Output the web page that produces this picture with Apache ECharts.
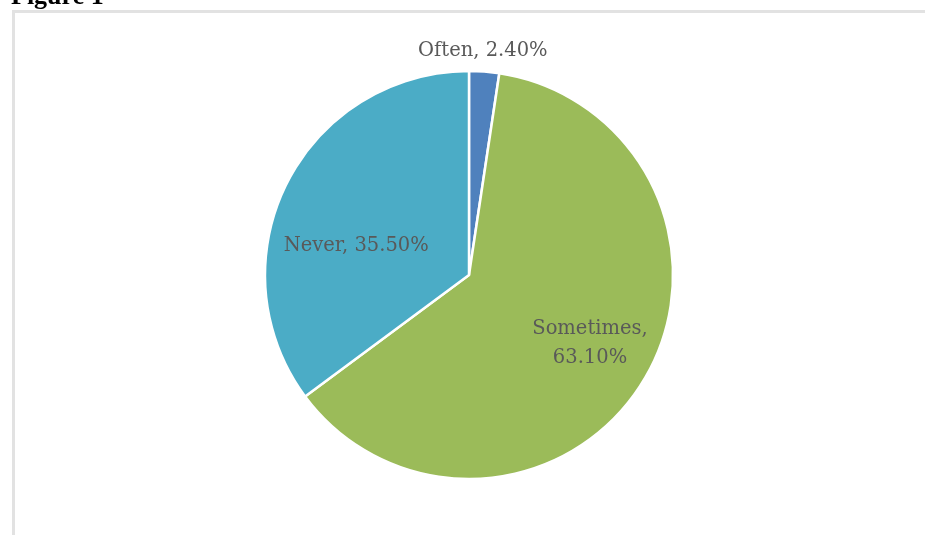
<!DOCTYPE html>
<html>
<head>
<meta charset="utf-8">
<script src="https://cdn.jsdelivr.net/npm/echarts@6/dist/echarts.min.js"></script>
<style>html,body{margin:0;padding:0;background:#fff;}#c{width:925px;height:535px;}</style>
</head>
<body>
<div id="c"></div>
<script>
var categories = ["Often", "Sometimes", "Never"];
var values = [2.4, 63.1, 35.5];
var labelTexts = ["Often, 2.40%", "Sometimes,\n63.10%", "Never, 35.50%"];
var colors = ["#4F81BD", "#9BBB59", "#4BACC6"];
var labelOffsets = [[6, -119], [31, 14], [-19, 18]];

var chart = echarts.init(document.getElementById('c'), null, {renderer: 'canvas'});
var data = categories.map(function (c, i) {
  return {
    name: c,
    value: values[i],
    itemStyle: {color: colors[i]},
    label: {offset: labelOffsets[i], formatter: labelTexts[i]}
  };
});
chart.setOption({
  animation: false,
  backgroundColor: '#fff',
  graphic: [
    {type: 'rect', shape: {x: 13.5, y: 11.5, width: 1000, height: 600},
     style: {fill: 'none', stroke: '#e2e2e2', lineWidth: 3}, z: -1},
    {type: 'text', left: 11, top: -16,
     style: {text: 'Figure 1', font: 'bold 26px "Liberation Serif"', fill: '#000'}}
  ],
  series: [{
    type: 'pie',
    center: [469, 275],
    radius: [0, 204],
    startAngle: 90,
    clockwise: true,
    data: data,
    itemStyle: {borderColor: '#fff', borderWidth: 2.5},
    label: {
      show: true,
      position: 'inside',
      fontFamily: '"DejaVu Serif"',
      fontSize: 19.5,
      color: '#595959',
      lineHeight: 29,
      align: 'center'
    },
    labelLine: {show: false},
    emphasis: {disabled: true}
  }]
});
</script>
</body>
</html>
